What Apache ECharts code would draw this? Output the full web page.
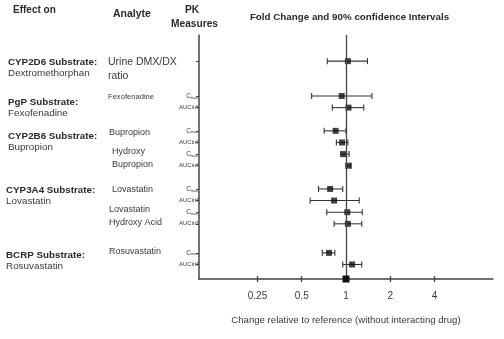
<!DOCTYPE html>
<html><head><meta charset="utf-8">
<script src="https://cdn.jsdelivr.net/npm/echarts@6/dist/echarts.min.js"></script>
<style>html,body{margin:0;padding:0;background:#fff}#c{width:504px;height:339px}</style>
</head><body><div id="c"></div>
<script>
// ---------------- data ----------------
const analytes = ['Urine DMX/DX ratio', 'Fexofenadine', 'Fexofenadine', 'Bupropion', 'Bupropion',
  'Hydroxy Bupropion', 'Hydroxy Bupropion', 'Lovastatin', 'Lovastatin',
  'Lovastatin Hydroxy Acid', 'Lovastatin Hydroxy Acid', 'Rosuvastatin', 'Rosuvastatin'];
const measures = ['', 'Cmax', 'AUCinf', 'Cmax', 'AUCinf', 'Cmax', 'AUCinf', 'Cmax', 'AUCinf', 'Cmax', 'AUCinf', 'Cmax', 'AUCinf'];
const estimate = [1.03, 0.935, 1.04, 0.85, 0.94, 0.97, 1.04, 0.78, 0.83, 1.02, 1.03, 0.766, 1.10];
const lower    = [0.746, 0.584, 0.807, 0.71, 0.86, 0.92, 1.00, 0.65, 0.57, 0.74, 0.83, 0.69, 0.95];
const upper    = [1.40, 1.50, 1.32, 1.00, 1.03, 1.05, 1.08, 0.95, 1.23, 1.29, 1.28, 0.84, 1.28];
const xTickValues = [0.25, 0.5, 1, 2, 4];
const effectGroups = [
  ['CYP2D6 Substrate:', 'Dextromethorphan'],
  ['PgP Substrate:', 'Fexofenadine'],
  ['CYP2B6 Substrate:', 'Bupropion'],
  ['CYP3A4 Substrate:', 'Lovastatin'],
  ['BCRP Substrate:', 'Rosuvastatin']
];
const analyteLines = [
  ['Urine DMX/DX', 'ratio'], ['Fexofenadine'], ['Bupropion'], ['Hydroxy', 'Bupropion'],
  ['Lovastatin'], ['Lovastatin', 'Hydroxy Acid'], ['Rosuvastatin']
];
const headers = { effect: 'Effect on', analyte: 'Analyte', pk: ['PK', 'Measures'],
  title: 'Fold Change and 90% confidence Intervals',
  xName: 'Change relative to reference (without interacting drug)' };

// ---------------- layout ----------------
const SLOT_COUNT = 42;
const ROW_SLOTS = [4, 10, 12, 16, 18, 20, 22, 26, 28, 30, 32, 37, 39];
const FONT = '"Liberation Sans", Arial, sans-serif';
const DARK = '#2a2a2a', TXT = '#3a3a3a', AXIS = '#444';
const effectPos = [[8, 62], [8, 102.5], [8, 136], [6, 190], [6, 255]];
const effectLineGap = 11;
const analytePos = [[108, 62, 14, 10.5], [108, 97, 0, 7.6], [109, 132.5, 0, 9], [112, 152, 13, 9],
  [112, 190, 0, 9], [109, 210, 13, 9], [109, 252, 0, 9]];

const slotKeys = [], slotLabel = [], isRow = [];
for (let i = 0; i < SLOT_COUNT; i++) { slotKeys.push('s' + i); slotLabel.push(''); isRow.push(false); }
ROW_SLOTS.forEach((s, r) => { slotLabel[s] = measures[r]; isRow[s] = true; });

const chart = echarts.init(document.getElementById('c'), null, { renderer: 'canvas' });
const grid = { left: 199, right: 11, top: 35, bottom: 60 };

const xBase = {
  type: 'log', logBase: 2, min: 0.1, max: 10, position: 'bottom',
  splitLine: { show: false }, minorTick: { show: false }
};

const graphics = [];
graphics.push({ type: 'text', x: 13, y: 10, style: { text: headers.effect, font: 'bold 10px ' + FONT, fill: DARK, verticalAlign: 'middle' } });
graphics.push({ type: 'text', x: 113, y: 14, style: { text: headers.analyte, font: 'bold 10.5px ' + FONT, fill: DARK, verticalAlign: 'middle' } });
graphics.push({ type: 'text', x: 192, y: 10, style: { text: headers.pk[0], font: 'bold 10.2px ' + FONT, fill: DARK, align: 'center', verticalAlign: 'middle' } });
graphics.push({ type: 'text', x: 194.5, y: 24, style: { text: headers.pk[1], font: 'bold 10.2px ' + FONT, fill: DARK, align: 'center', verticalAlign: 'middle' } });
graphics.push({ type: 'text', x: 349.5, y: 17, style: { text: headers.title, font: 'bold 9.8px ' + FONT, fill: DARK, align: 'center', verticalAlign: 'middle' } });
effectGroups.forEach((g, i) => {
  const [x, y] = effectPos[i];
  graphics.push({ type: 'text', x: x, y: y, style: { text: g[0], font: 'bold 9.8px ' + FONT, fill: DARK, verticalAlign: 'middle' } });
  graphics.push({ type: 'text', x: x, y: y + effectLineGap, style: { text: g[1], font: '9.9px ' + FONT, fill: TXT, verticalAlign: 'middle' } });
});
analyteLines.forEach((lines, i) => {
  const [x, y, gap, fs] = analytePos[i];
  lines.forEach((t, k) => {
    graphics.push({ type: 'text', x: x, y: y + k * gap, style: { text: t, font: fs + 'px ' + FONT, fill: TXT, verticalAlign: 'middle' } });
  });
});

const option = {
  animation: false,
  backgroundColor: '#fff',
  grid: grid,
  xAxis: [
    Object.assign({}, xBase, {
      name: headers.xName, nameLocation: 'middle', nameGap: 36,
      nameTextStyle: { fontFamily: FONT, fontSize: 9.6, color: TXT },
      axisLine: { show: true, lineStyle: { color: AXIS, width: 1.5 } },
      axisTick: { show: true, customValues: xTickValues, length: 3, lineStyle: { color: AXIS, width: 1.3 } },
      axisLabel: { show: true, customValues: xTickValues, margin: 12, fontFamily: FONT, fontSize: 10, color: TXT,
        formatter: v => String(+(+v).toPrecision(3)) }
    }),
    Object.assign({}, xBase, {
      axisLine: { show: false },
      axisTick: { show: true, inside: true, customValues: xTickValues, length: 3, lineStyle: { color: AXIS, width: 1.3 } },
      axisLabel: { show: false }
    })
  ],
  yAxis: {
    type: 'category', inverse: true, data: slotKeys, boundaryGap: true,
    axisLine: { show: true, lineStyle: { color: AXIS, width: 1.5 } },
    axisTick: { show: true, alignWithLabel: true, length: 3, interval: (i) => isRow[i], lineStyle: { color: AXIS, width: 1 } },
    axisLabel: {
      show: true, interval: 0, margin: 1, fontFamily: FONT, color: TXT,
      formatter: (v, i) => {
        const l = slotLabel[i];
        if (l === 'Cmax') return '{c|C}{s|max}';
        if (l === 'AUCinf') return '{a|AUCinf}';
        return '';
      },
      rich: {
        c: { fontSize: 6.5, fontFamily: FONT, color: TXT },
        s: { fontSize: 3.8, fontFamily: FONT, color: TXT, verticalAlign: 'bottom', padding: [3, 0, 0, 0] },
        a: { fontSize: 6, fontFamily: FONT, color: TXT }
      }
    },
    splitLine: { show: false }
  },
  graphic: graphics,
  series: [
    {
      type: 'custom', name: 'ci', xAxisIndex: 0,
      encode: { x: [1, 2], y: 0 },
      data: ROW_SLOTS.map((s, r) => [s, lower[r], upper[r]]),
      renderItem: (params, api) => {
        const y = api.value(0);
        const p1 = api.coord([api.value(1), y]);
        const p2 = api.coord([api.value(2), y]);
        const h = 3;
        const st = { stroke: '#333', lineWidth: 1.1 };
        return { type: 'group', children: [
          { type: 'line', shape: { x1: p1[0], y1: p1[1], x2: p2[0], y2: p2[1] }, style: st },
          { type: 'line', shape: { x1: p1[0], y1: p1[1] - h, x2: p1[0], y2: p1[1] + h }, style: st },
          { type: 'line', shape: { x1: p2[0], y1: p2[1] - h, x2: p2[0], y2: p2[1] + h }, style: st }
        ] };
      },
      z: 3
    },
    {
      type: 'scatter', name: 'estimate', xAxisIndex: 0,
      symbol: 'rect', symbolSize: 6,
      itemStyle: { color: '#111' },
      data: ROW_SLOTS.map((s, r) => [estimate[r], s]),
      markLine: {
        silent: true, symbol: 'none', label: { show: false },
        lineStyle: { color: AXIS, width: 1.3, type: 'solid' },
        data: [{ xAxis: 1 }]
      },
      z: 4
    }
  ]
};
chart.setOption(option);

// reference marker on the x-axis at fold change 1
const px = chart.convertToPixel({ xAxisIndex: 0 }, 1);
const axisY = 339 - grid.bottom;
chart.setOption({ graphic: graphics.concat([{ type: 'rect', shape: { x: px - 3.5, y: axisY - 3.5, width: 7, height: 7 }, style: { fill: '#111' }, z: 10 }]) });
</script></body></html>
